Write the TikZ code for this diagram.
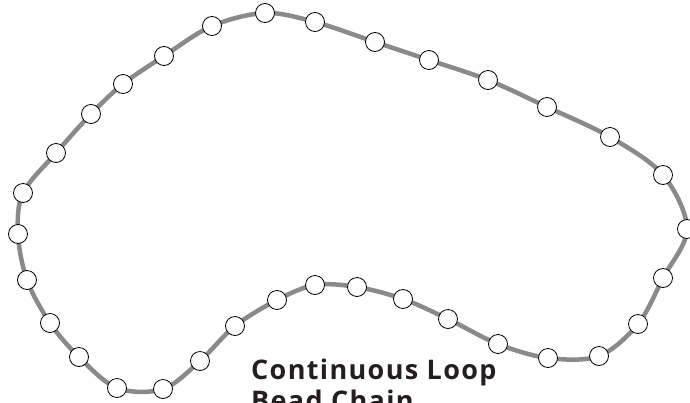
\documentclass[tikz,border=0pt]{standalone}
\usepackage{fontspec}
\setsansfont{Open Sans}[LetterSpace=5]
\usepackage{tikz}
\definecolor{chaingray}{RGB}{138,138,140}
\definecolor{labelblack}{RGB}{35,31,32}
\tikzset{bead/.style={circle, draw=black, fill=white, line width=0.8pt, minimum size=19pt, inner sep=0pt}}

\begin{document}
\begin{tikzpicture}[x=1pt,y=-1pt]
    \useasboundingbox (0,0) rectangle (690,402);
    \draw[chaingray, line width=4.5pt] plot[smooth cycle, tension=0.55] coordinates {
        (23,193) (56,153) (91,114) (123,84) (164,56) (212,26) (265,13) (315,22)
        (375,42) (429,60) (488,80) (547,107) (610,137) (663,175) (687,229)
        (663,278) (638,324) (599,356) (548,358) (498,344) (448,319) (403,299)
        (357,287) (315,285) (277,300) (235,326) (200,361) (163,389) (117,388)
        (79,357) (50,323) (27,280) (18,234)};
    \foreach \x/\y [count=\i] in {23/193, 56/153, 91/114, 123/84, 164/56, 212/26, 265/13, 315/22,
        375/42, 429/60, 488/80, 547/107, 610/137, 663/175, 687/229,
        663/278, 638/324, 599/356, 548/358, 498/344, 448/319, 403/299,
        357/287, 315/285, 277/300, 235/326, 200/361, 163/389, 117/388,
        79/357, 50/323, 27/280, 18/234}
        \node[bead] (b\i) at (\x,\y) {};
    \node[anchor=base west, inner sep=0pt, text=labelblack, font=\sffamily\bfseries\fontsize{27}{31}\selectfont, align=left] (title) at (251,410) {Continuous Loop\\Bead Chain};
\end{tikzpicture}
\end{document}
